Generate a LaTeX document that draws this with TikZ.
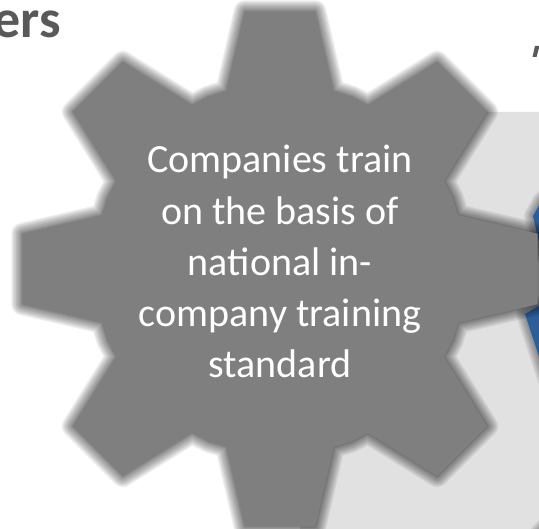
\documentclass[tikz,border=0pt]{standalone}
\usepackage{fontspec}
\setmainfont{Carlito}
\definecolor{geargray}{HTML}{7F7F7F}
\definecolor{lightgray2}{HTML}{E1E1E1}
\definecolor{titlegray}{HTML}{595959}
\definecolor{gearblue}{HTML}{2E5E98}
\tikzset{
  geartext/.style={text=white, font=\fontsize{40}{48}\selectfont, inner sep=0pt, anchor=base},
  titletext/.style={text=titlegray, font=\fontsize{54}{60}\selectfont\bfseries, inner sep=0pt, anchor=base east},
  glow/.style={draw=black, line join=round}
}
\def\gearpath{(73.2:186) \foreach \a in {90,135,...,405}{ -- (\a-16.8:186) -- (\a-7.8:260) -- (\a+7.8:260) -- (\a+16.8:186) -- (\a+22.5:186.8) -- (\a+28.2:186)} -- cycle}
\def\blueApath{(542,200) -- (533,216) -- (542,254) -- cycle}
\def\blueBpath{(525,314) -- (546,302) -- (546,378) -- cycle}
\begin{document}
\begin{tikzpicture}[x=1pt,y=-1pt]
\useasboundingbox (0,0) rectangle (539,529);
\clip (0,0) rectangle (539,529);
\fill[white] (0,0) rectangle (539,529);

% light gray background shape
\fill[lightgray2] (480,112) -- (539,112) -- (539,529) -- (300,529) -- (300,400) -- (420,200) -- cycle;

% corner shadow bottom right
\foreach \w in {16,13,10,7,4}{
  \draw[glow, line width=\w pt, opacity=0.07] (568,556) circle[radius=38];
}
\fill[lightgray2!60!gray] (568,556) circle[radius=38];

% blue teeth with shadows
\foreach \w in {18,15,12,9,6,3}{
  \draw[glow, line width=\w pt, opacity=0.07] \blueApath;
  \draw[glow, line width=\w pt, opacity=0.07] \blueBpath;
}
\fill[gearblue] \blueApath;
\fill[gearblue] \blueBpath;

% main gear with soft shadow
\begin{scope}[shift={(280,269)}]
  \foreach \w in {22,19,16,13,10,7,4,2}{
    \draw[glow, line width=\w pt, opacity=0.075] \gearpath;
  }
  \fill[geargray] \gearpath;
\end{scope}

% title fragment
\node[titletext] (title) at (61,38) {ers};
\fill[titlegray] (535,46) -- (539.5,46) -- (536.5,57) -- (532.5,57) -- cycle;

% gear text
\node[geartext] (l1) at (280,173) {Companies train};
\node[geartext] (l2) at (280,225) {on the basis of};
\node[geartext] (l3) at (280,276) {national in-};
\node[geartext] (l4) at (280,327) {company training};
\node[geartext] (l5) at (280,378) {standard};
\end{tikzpicture}
\end{document}
